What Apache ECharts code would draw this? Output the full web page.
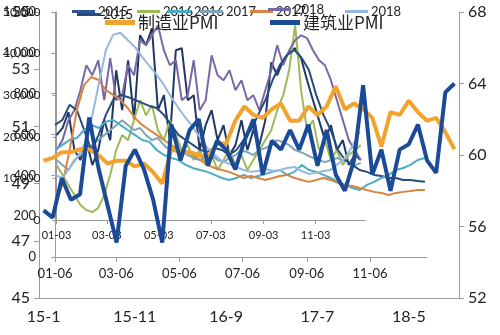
<!DOCTYPE html>
<html><head><meta charset="utf-8">
<script src="https://cdn.jsdelivr.net/npm/echarts@6/dist/echarts.min.js"></script>
<style>html,body{margin:0;padding:0;background:#fff}#c{width:500px;height:335px}</style>
</head><body><div id="c"></div>
<script>
// ---- main chart (monthly) ----
const months = ["15-1","15-2","15-3","15-4","15-5","15-6","15-7","15-8","15-9","15-10","15-11","15-12",
"16-1","16-2","16-3","16-4","16-5","16-6","16-7","16-8","16-9","16-10","16-11","16-12",
"17-1","17-2","17-3","17-4","17-5","17-6","17-7","17-8","17-9","17-10","17-11","17-12",
"18-1","18-2","18-3","18-4","18-5","18-6","18-7","18-8","18-9","18-10"];
const mfgPMI = [49.8,49.9,50.1,50.1,50.2,50.2,50.0,49.7,49.8,49.8,49.6,49.7,49.4,49.0,50.2,50.1,50.1,50.0,49.9,50.4,50.4,51.2,51.7,51.4,51.3,51.6,51.8,51.2,51.2,51.7,51.4,51.7,52.4,51.6,51.8,51.6,51.3,50.3,51.5,51.4,51.9,51.5,51.2,51.3,50.8,50.2];
const conPMI = [56.9,56.5,58.7,57.5,57.8,62.1,59.3,57.2,55.1,59.4,60.3,59.2,57.5,55.1,61.7,59.7,61.4,62.0,59.4,60.8,60.3,59.2,60.8,62.0,58.9,60.8,60.3,61.4,60.3,61.7,59.4,61.4,58.9,58.0,59.7,63.9,58.9,60.3,58.0,60.3,60.6,61.7,59.7,59.0,63.5,64.0];
const mfgName = "制造业PMI", conName = "建筑业PMI";
// ---- inner chart A (weekly, 0-50,000, dates from 01-03) ----
const ticksA = ["01-03","03-03","05-03","07-03","09-03","11-03"];
const a2015 = [20400,22100,25900,16800,14400,19200,13200,16800,24000,19200,36000,26400,38400,24000,44400,42000,46100,26400,30000,19200,40800,41300,28800,30000,16800,22800,26400,19200,22800,15600,18000,24000,16800,21600,18000,24000,37900,34800,38400,40300,41300,38900,33600,28800,24000,19200,22800,16800,19200,13200,15600,14400];
const a2016 = [13200,10800,8400,6000,3600,2400,1900,2900,6000,10800,16800,20400,19200,24000,28800,25200,27600,21600,19200,24000,20400,16800,18000,14400,16800,13200,15600,12000,14400,16800,13200,15600,12000,14400,16800,19200,21600,26400,30000,36000,46800,31200,21600,24000,16800,19200,14400,16800,13200,15600,16800,18000];
const a2017 = [14400,13200,12000,14400,15600,16800,18000,19200,20400,21600,22800,24000,22800,21600,22100,20400,19200,19700,18000,16800,17300,16300,15600,14900,14400,15100,15600,14400,13900,14900,15600,16800,16300,15600,16800,17300,18000,19200,18700,18000,16800,16300,15600,14900,14400,13900,14400,14900,14400,13900,13200,13700];
const a2018 = [16800,19200,24000,26400,31200,37200,34800,38400,28800,38900,28800,30000,37200,34800,43200,42000,44400,46800,40800,37200,38400,28800,30000,38400,26400,28800,39600,34800,33600,36000,31200,33600,28800,30000,26400,31200,36000,42000,37200,40800,43200,44400,43700,40800,38400,37200,33600,28800,24000,19200,16800,14400];
// ---- inner chart B (weekly, 0-1,200, dates from 01-06) ----
const ticksB = ["01-06","03-06","05-06","07-06","09-06","11-06"];
const b2015 = [647,671,745,720,622,524,598,696,769,794,784,769,755,740,730,696,647,598,573,549,524,515,534,524,500,524,573,622,696,769,867,941,990,1014,975,916,794,696,622,524,475,451,426,417,402,397,387,387,377,377,372,368];
const b2016 = [524,549,573,583,622,647,632,662,671,647,622,598,573,564,524,500,485,475,451,436,426,417,402,387,377,387,402,387,397,407,417,426,402,417,451,426,417,402,387,368,353,338,328,353,368,387,402,426,436,451,475,485];
const b2017 = [255,353,524,720,843,882,867,818,794,769,730,681,647,622,598,573,549,524,515,500,475,451,436,426,417,402,387,397,387,377,387,397,402,387,377,368,377,387,377,363,353,348,338,328,319,314,304,314,319,323,328,328];
const b2018 = [402,387,436,485,549,671,843,1014,1088,1098,1063,1029,980,936,892,843,784,730,681,637,583,534,500,470,456,441,426,417,421,431,421,426,436,441,421,407,412,421,426,456,485,544,613];

function dayList(startMonth, startDay){
  const out=[]; const d=new Date(Date.UTC(2015,startMonth-1,startDay));
  while(d.getUTCFullYear()===2015){
    out.push(String(d.getUTCMonth()+1).padStart(2,'0')+'-'+String(d.getUTCDate()).padStart(2,'0'));
    d.setUTCDate(d.getUTCDate()+1);
  }
  return out;
}
const daysA = dayList(1,3), daysB = dayList(1,6);
const weekly = arr => arr.map((v,i)=>[i*7,v]);

const FONT = 'Lato, "Noto Sans", sans-serif';
const CJK = '"Noto Sans CJK SC", sans-serif';
const GREY = '#9a9a9a';
const C = {
  a2015:'#1F3864', a2016:'#9BBB59', a2017:'#7FA6B5', a2018:'#7A68A6',
  b2015:'#264B7E', b2016:'#4BACC6', b2017:'#D9843E', b2018:'#95B8E0',
  mfg:'#F2A32E', con:'#1B4A96'
};
const fmt = v => v.toLocaleString('en-US');

function innerLine(name, data, xi, yi, color){
  return {name, type:'line', xAxisIndex:xi, yAxisIndex:yi, data:weekly(data), symbol:'none',
    lineStyle:{width:2, color}, itemStyle:{color}, z:2, animation:false};
}
function leg(name, left, top, color, h, w, fs, fam){
  return {show:true, left, top, padding:0, itemGap:0, selectedMode:false,
    itemWidth:w||23, itemHeight:h||3, icon:'rect',
    formatter: n => n.replace(/^[AB]/,''),
    textStyle:{fontSize:fs||13, color:'#222', fontFamily:fam||FONT, padding:[0,0,0,-2]},
    data:[{name, itemStyle:{color}}]};
}
const showA = (i,v)=>ticksA.includes(v);
const showB = (i,v)=>ticksB.includes(v);

const chart = echarts.init(document.getElementById('c'), null, {renderer:'canvas'});
chart.setOption({
  animation:false,
  backgroundColor:'#fff',
  grid:[
    {left:39, right:41, top:12, bottom:37},
    {left:52, right:135, top:12, bottom:115},
    {left:52, right:73, top:12, bottom:78}
  ],
  legend:[
    leg('A2015',72,5,'#2F5597'),
    leg('B2015',77,8,C.b2015),
    leg('A2016',137,5,C.a2016),
    leg('B2016',168,5,C.b2016),
    leg('A2017',200,5,C.a2017),
    leg('B2017',250,5,C.b2017),
    leg('A2018',268,3,C.a2018),
    leg('B2018',345,5,C.b2018),
    leg(mfgName,105,14,C.mfg,5,30,17,CJK),
    leg(conName,270,14,C.con,5,30,17,CJK)
  ],
  xAxis:[
    {gridIndex:0, type:'category', data:months, boundaryGap:true,
      axisLine:{lineStyle:{color:GREY}},
      axisTick:{interval:9, length:5, lineStyle:{color:GREY}},
      axisLabel:{interval:9, fontSize:16, color:'#222', fontFamily:FONT, margin:11}},
    {gridIndex:1, type:'category', data:daysA, boundaryGap:false,
      axisLine:{lineStyle:{color:GREY}},
      axisTick:{alignWithLabel:true, interval:showA, length:4, lineStyle:{color:GREY}},
      axisLabel:{interval:showA, fontSize:11, color:'#222', fontFamily:FONT, margin:10, hideOverlap:false}},
    {gridIndex:2, type:'category', data:daysB, boundaryGap:false,
      axisLine:{lineStyle:{color:GREY}},
      axisTick:{alignWithLabel:true, interval:showB, length:5, lineStyle:{color:GREY}},
      axisLabel:{interval:showB, fontSize:13, color:'#222', fontFamily:FONT, margin:10, hideOverlap:false}}
  ],
  yAxis:[
    {gridIndex:0, type:'value', min:45, max:55, interval:2, position:'left',
      axisLine:{show:true, lineStyle:{color:GREY}}, axisTick:{show:true, length:5, lineStyle:{color:GREY}},
      splitLine:{show:false}, axisLabel:{fontSize:16, color:'#222', fontFamily:FONT, margin:9}},
    {gridIndex:0, type:'value', min:52, max:68, interval:4, position:'right',
      axisLine:{show:true, lineStyle:{color:GREY}}, axisTick:{show:true, length:5, lineStyle:{color:GREY}},
      splitLine:{show:false}, axisLabel:{fontSize:16, color:'#222', fontFamily:FONT, margin:9}},
    {gridIndex:1, type:'value', min:0, max:50000, interval:10000,
      axisLine:{show:true, lineStyle:{color:GREY}}, axisTick:{show:true, length:4, lineStyle:{color:GREY}},
      splitLine:{show:false}, axisLabel:{fontSize:12, color:'#222', fontFamily:FONT, margin:16, formatter:fmt}},
    {gridIndex:2, type:'value', min:0, max:1200, interval:200,
      axisLine:{show:true, lineStyle:{color:GREY}}, axisTick:{show:true, length:4, lineStyle:{color:GREY}},
      splitLine:{show:false}, axisLabel:{fontSize:13, color:'#222', fontFamily:FONT, margin:19, formatter:fmt}}
  ],
  series:[
    innerLine('A2015', a2015, 1, 2, C.a2015),
    innerLine('A2016', a2016, 1, 2, C.a2016),
    innerLine('A2017', a2017, 1, 2, C.a2017),
    innerLine('A2018', a2018, 1, 2, C.a2018),
    innerLine('B2015', b2015, 2, 3, C.b2015),
    innerLine('B2016', b2016, 2, 3, C.b2016),
    innerLine('B2017', b2017, 2, 3, C.b2017),
    innerLine('B2018', b2018, 2, 3, C.b2018),
    {name:mfgName, type:'line', xAxisIndex:0, yAxisIndex:0, data:mfgPMI, symbol:'none',
      lineStyle:{width:4, color:C.mfg}, itemStyle:{color:C.mfg}, z:5},
    {name:conName, type:'line', xAxisIndex:0, yAxisIndex:1, data:conPMI, symbol:'none',
      lineStyle:{width:4, color:C.con}, itemStyle:{color:C.con}, z:6}
  ]
});
</script></body></html>
